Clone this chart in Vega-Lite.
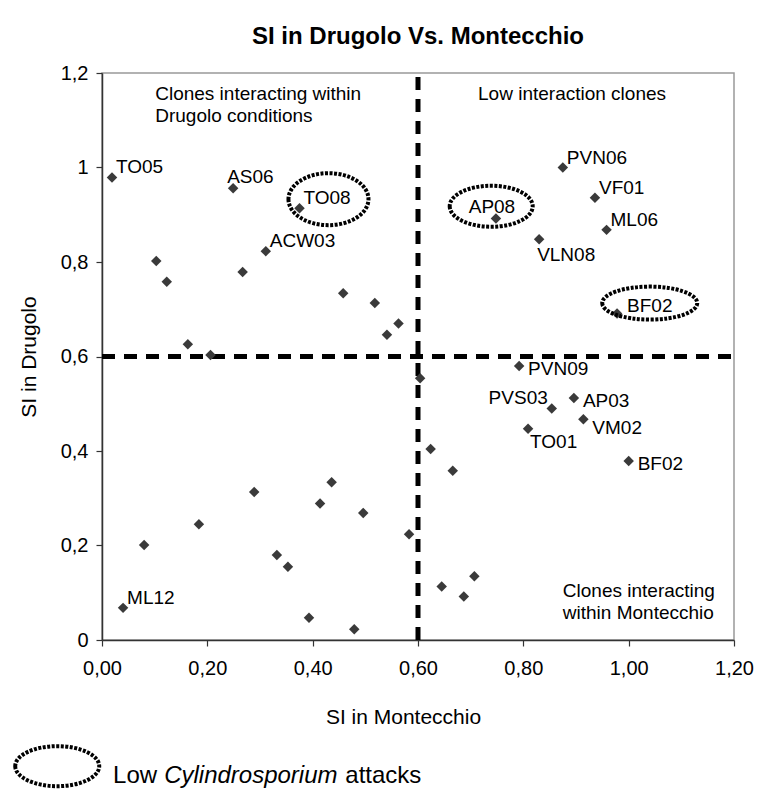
{
  "$schema": "https://vega.github.io/schema/vega-lite/v6.json",
  "width": 632,
  "height": 567,
  "autosize": {"type": "none"},
  "padding": {"left": 102, "top": 73, "right": 25, "bottom": 149},
  "background": "white",
  "title": {"text": "SI in Drugolo Vs. Montecchio", "font": "Liberation Sans", "fontSize": 24, "fontWeight": "bold", "anchor": "middle", "frame": "group", "baseline": "alphabetic", "offset": -5, "color": "#000"},
  "config": {
    "view": {"stroke": "#999", "strokeWidth": 1.5},
    "font": "Liberation Sans",
    "axis": {"grid": false, "domainColor": "#333", "domainWidth": 1.5, "tickColor": "#333", "tickWidth": 1.2, "tickSize": 6, "labelColor": "#000", "titleColor": "#000", "labelFont": "Liberation Sans", "titleFont": "Liberation Sans", "labelFontSize": 20, "titleFontSize": 21, "titleFontWeight": "normal", "labelFlush": false, "labelOverlap": false}
  },
  "datasets": {
    "points": [
      {"label": "TO05", "x": 0.019, "y": 0.979},
      {"label": "AS06", "x": 0.249, "y": 0.956},
      {"label": "TO08", "x": 0.375, "y": 0.914},
      {"label": "ACW03", "x": 0.311, "y": 0.823},
      {"label": "", "x": 0.103, "y": 0.802},
      {"label": "", "x": 0.123, "y": 0.758},
      {"label": "", "x": 0.267, "y": 0.779},
      {"label": "", "x": 0.458, "y": 0.734},
      {"label": "", "x": 0.518, "y": 0.713},
      {"label": "", "x": 0.563, "y": 0.670},
      {"label": "", "x": 0.541, "y": 0.646},
      {"label": "", "x": 0.163, "y": 0.626},
      {"label": "", "x": 0.206, "y": 0.603},
      {"label": "PVN06", "x": 0.875, "y": 1.0},
      {"label": "VF01", "x": 0.936, "y": 0.936},
      {"label": "AP08", "x": 0.748, "y": 0.892},
      {"label": "ML06", "x": 0.958, "y": 0.868},
      {"label": "VLN08", "x": 0.830, "y": 0.848},
      {"label": "BF02", "x": 0.978, "y": 0.691},
      {"label": "ML12", "x": 0.040, "y": 0.068},
      {"label": "", "x": 0.080, "y": 0.201},
      {"label": "", "x": 0.184, "y": 0.245},
      {"label": "", "x": 0.289, "y": 0.313},
      {"label": "", "x": 0.332, "y": 0.180},
      {"label": "", "x": 0.353, "y": 0.155},
      {"label": "", "x": 0.414, "y": 0.289},
      {"label": "", "x": 0.436, "y": 0.334},
      {"label": "", "x": 0.496, "y": 0.269},
      {"label": "", "x": 0.393, "y": 0.047},
      {"label": "", "x": 0.479, "y": 0.023},
      {"label": "", "x": 0.583, "y": 0.224},
      {"label": "PVN09", "x": 0.792, "y": 0.580},
      {"label": "PVS03", "x": 0.854, "y": 0.490},
      {"label": "AP03", "x": 0.896, "y": 0.512},
      {"label": "VM02", "x": 0.914, "y": 0.467},
      {"label": "TO01", "x": 0.809, "y": 0.447},
      {"label": "BF02", "x": 1.0, "y": 0.379},
      {"label": "", "x": 0.604, "y": 0.554},
      {"label": "", "x": 0.624, "y": 0.404},
      {"label": "", "x": 0.666, "y": 0.358},
      {"label": "", "x": 0.645, "y": 0.113},
      {"label": "", "x": 0.687, "y": 0.092},
      {"label": "", "x": 0.707, "y": 0.135}
    ],
    "guides": [
      {"x": 0.6, "x2": 0.6, "y": 0, "y2": 1.2},
      {"x": 0, "x2": 1.2, "y": 0.6, "y2": 0.6}
    ],
    "ellipses": [
      {"clone": "TO08", "x": 0.430, "y": 0.933},
      {"clone": "AP08", "x": 0.739, "y": 0.918},
      {"clone": "BF02", "x": 1.040, "y": 0.713},
      {"clone": "legend", "x": -0.085, "y": -0.267}
    ],
    "notes": [
      {"t": "Clones interacting within\nDrugolo conditions", "x": 0.101, "y": 1.175},
      {"t": "Low interaction clones", "x": 0.714, "y": 1.175},
      {"t": "Clones interacting\nwithin Montecchio", "x": 0.875, "y": 0.123}
    ],
    "legendtext": [
      {"t": "Low", "x": 0.021, "y": -0.288},
      {"t": "Cylindrosporium", "x": 0.118, "y": -0.288},
      {"t": "attacks", "x": 0.462, "y": -0.288}
    ]
  },
  "encoding": {
    "x": {"field": "x", "type": "quantitative", "scale": {"domain": [0, 1.2], "nice": false, "zero": false},
      "axis": {"title": "SI in Montecchio", "values": [0, 0.2, 0.4, 0.6, 0.8, 1, 1.2], "labelExpr": "replace(format(datum.value,'.2f'),'.',',')", "labelPadding": 12, "titleX": 301, "titleY": 77, "titleBaseline": "middle", "titleAlign": "center"}},
    "y": {"field": "y", "type": "quantitative", "scale": {"domain": [0, 1.2], "nice": false, "zero": false},
      "axis": {"title": "SI in Drugolo", "values": [0, 0.2, 0.4, 0.6, 0.8, 1, 1.2], "labelExpr": "replace(format(datum.value,'~g'),'.',',')", "labelPadding": 8, "titleX": -73, "titleY": 283.5, "titleAngle": 270, "titleBaseline": "middle", "titleAlign": "center"}}
  },
  "layer": [
    {"data": {"name": "guides"}, "mark": {"type": "rule", "strokeDash": [13, 9], "strokeWidth": 5, "color": "#000"},
      "encoding": {"x2": {"field": "x2"}, "y2": {"field": "y2"}}},
    {"data": {"name": "points"}, "mark": {"type": "point", "shape": "diamond", "filled": true, "size": 110, "color": "#3a3a3a", "opacity": 1}},
    {"data": {"name": "ellipses"}, "mark": {"type": "point", "filled": false, "stroke": "#000", "strokeWidth": 4, "strokeDash": [3, 1.5], "size": 10000, "opacity": 1},
      "encoding": {"shape": {"field": "clone", "type": "nominal", "legend": null, "scale": {"domain": ["TO08", "AP08", "BF02", "legend"], "range": [
        "M -0.8 0 A 0.8 0.52 0 1 0 0.8 0 A 0.8 0.52 0 1 0 -0.8 0 Z",
        "M -0.83 0 A 0.83 0.41 0 1 0 0.83 0 A 0.83 0.41 0 1 0 -0.83 0 Z",
        "M -0.95 0 A 0.95 0.33 0 1 0 0.95 0 A 0.95 0.33 0 1 0 -0.95 0 Z",
        "M -0.84 0 A 0.84 0.4 0 1 0 0.84 0 A 0.84 0.4 0 1 0 -0.84 0 Z"]}}}},
    {"data": {"name": "points"}, "transform": [{"filter": {"field": "label", "oneOf": ["TO05", "TO08", "ACW03", "PVN06", "VF01", "ML06", "ML12"]}}],
      "mark": {"type": "text", "align": "left", "baseline": "middle", "dx": 4, "dy": -10, "fontSize": 19, "color": "#000"}, "encoding": {"text": {"field": "label"}}},
    {"data": {"name": "points"}, "transform": [{"filter": "datum.label === 'BF02' && datum.y > 0.6"}],
      "mark": {"type": "text", "align": "left", "baseline": "middle", "dx": 10, "dy": -8, "fontSize": 19, "color": "#000"}, "encoding": {"text": {"field": "label"}}},
    {"data": {"name": "points"}, "transform": [{"filter": {"field": "label", "equal": "AS06"}}],
      "mark": {"type": "text", "align": "left", "baseline": "middle", "dx": -6, "dy": -11, "fontSize": 19, "color": "#000"}, "encoding": {"text": {"field": "label"}}},
    {"data": {"name": "points"}, "transform": [{"filter": {"field": "label", "equal": "AP08"}}],
      "mark": {"type": "text", "align": "center", "baseline": "middle", "dx": -4, "dy": -12, "fontSize": 19, "color": "#000"}, "encoding": {"text": {"field": "label"}}},
    {"data": {"name": "points"}, "transform": [{"filter": {"field": "label", "equal": "VLN08"}}],
      "mark": {"type": "text", "align": "left", "baseline": "middle", "dx": -2, "dy": 16, "fontSize": 19, "color": "#000"}, "encoding": {"text": {"field": "label"}}},
    {"data": {"name": "points"}, "transform": [{"filter": "datum.label === 'PVN09' || datum.label === 'AP03' || (datum.label === 'BF02' && datum.y < 0.6)"}],
      "mark": {"type": "text", "align": "left", "baseline": "middle", "dx": 9, "dy": 3, "fontSize": 19, "color": "#000"}, "encoding": {"text": {"field": "label"}}},
    {"data": {"name": "points"}, "transform": [{"filter": {"field": "label", "equal": "PVS03"}}],
      "mark": {"type": "text", "align": "right", "baseline": "middle", "dx": -4, "dy": -10, "fontSize": 19, "color": "#000"}, "encoding": {"text": {"field": "label"}}},
    {"data": {"name": "points"}, "transform": [{"filter": {"field": "label", "equal": "VM02"}}],
      "mark": {"type": "text", "align": "left", "baseline": "middle", "dx": 9, "dy": 9, "fontSize": 19, "color": "#000"}, "encoding": {"text": {"field": "label"}}},
    {"data": {"name": "points"}, "transform": [{"filter": {"field": "label", "equal": "TO01"}}],
      "mark": {"type": "text", "align": "left", "baseline": "middle", "dx": 2, "dy": 13, "fontSize": 19, "color": "#000"}, "encoding": {"text": {"field": "label"}}},
    {"data": {"name": "notes"},
      "mark": {"type": "text", "align": "left", "baseline": "top", "lineBreak": "\n", "lineHeight": 22, "fontSize": 19, "color": "#000"}, "encoding": {"text": {"field": "t"}}},
    {"data": {"name": "legendtext"}, "transform": [{"filter": "datum.t !== 'Cylindrosporium'"}],
      "mark": {"type": "text", "align": "left", "baseline": "middle", "fontSize": 24, "color": "#000"}, "encoding": {"text": {"field": "t"}}},
    {"data": {"name": "legendtext"}, "transform": [{"filter": "datum.t === 'Cylindrosporium'"}],
      "mark": {"type": "text", "align": "left", "baseline": "middle", "fontSize": 24, "fontStyle": "italic", "color": "#000"}, "encoding": {"text": {"field": "t"}}}
  ]
}
